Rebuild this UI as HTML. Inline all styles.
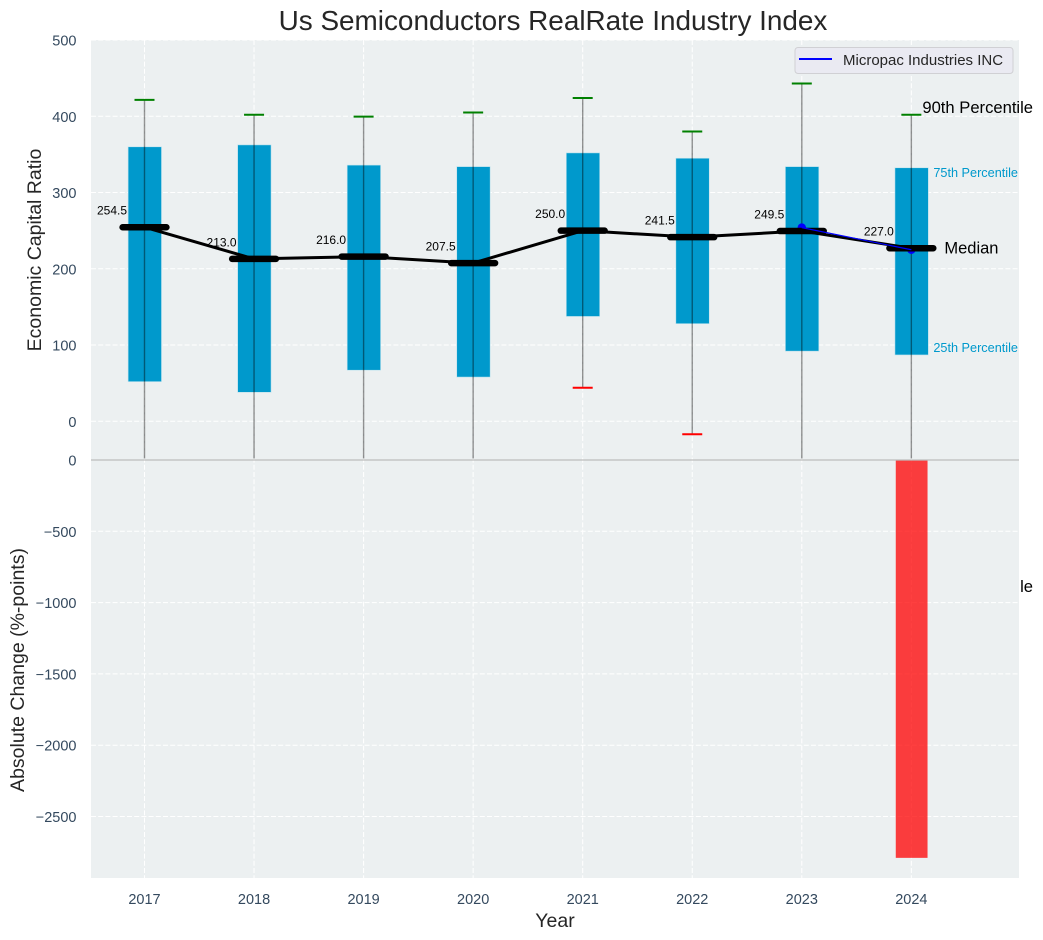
<!DOCTYPE html>
<html>
<head>
<meta charset="utf-8">
<title>Us Semiconductors RealRate Industry Index</title>
<style>
html,body{margin:0;padding:0;background:#fff;width:1043px;height:940px;overflow:hidden}
svg{display:block;font-family:"Liberation Sans",Arial,sans-serif}
</style>
</head>
<body>
<svg id="chart" width="1043" height="940" viewBox="0 0 1043 940" xmlns="http://www.w3.org/2000/svg">
  <defs>
    <clipPath id="top-clip"><rect x="91" y="40" width="928" height="418.5"/></clipPath>
    <clipPath id="bottom-clip"><rect x="91" y="460" width="928" height="418"/></clipPath>
  </defs>
  <text x="553" y="30" text-anchor="middle" font-size="27.9" fill="#262626">Us Semiconductors RealRate Industry Index</text>
  <g id="behind-bottom"></g>
  <rect x="91" y="40" width="928" height="419.5" fill="#ecf0f1"/>
  <rect x="91" y="460" width="928" height="418" fill="#ecf0f1"/>
  <g id="grid"></g>
  <g id="top-marks" clip-path="url(#top-clip)"></g>
  <g id="bottom-marks" clip-path="url(#bottom-clip)"></g>
  <line x1="91" x2="1019" y1="460" y2="460" stroke="#bdbdbd" stroke-width="1.2"/>
  <g id="labels"></g>
  <g id="axes-text"></g>
  <text x="555" y="927" text-anchor="middle" font-size="19.5" fill="#262626">Year</text>
  <text transform="translate(41,250) rotate(-90)" text-anchor="middle" font-size="19.5" fill="#262626">Economic Capital Ratio</text>
  <text transform="translate(24,670) rotate(-90)" text-anchor="middle" font-size="19.5" fill="#262626">Absolute Change (%-points)</text>
  <g>
    <rect x="795" y="47.5" width="218" height="26" rx="3" fill="#eaeaf2" stroke="#d0d0d4" stroke-width="1"/>
    <line x1="799" x2="832" y1="59" y2="59" stroke="#0000ff" stroke-width="2"/>
    <text x="843" y="65" font-size="15" fill="#262626">Micropac Industries INC</text>
  </g>
</svg>
<script>
const years = [2017, 2018, 2019, 2020, 2021, 2022, 2023, 2024];
const p90 = [421.5, 402, 399.5, 405, 424, 380, 443, 402];
const p75 = [360, 362.5, 336, 334, 352, 345, 334, 332.5];
const medians = [254.5, 213.0, 216.0, 207.5, 250.0, 241.5, 249.5, 227.0];
const p25 = [52, 38, 67, 58, 137.5, 128, 92, 87];
const p10 = [-70, -80, -65, -75, 44, -17, -60, -60];
const micropac = [null, null, null, null, null, null, 254, 225];
const changes = [null, null, null, null, null, null, null, -2790];
const topTicks = [0, 100, 200, 300, 400, 500];
const bottomTicks = [0, -500, -1000, -1500, -2000, -2500];

const NS = 'http://www.w3.org/2000/svg';
const xAxis = v => 144.5 + (v - 2017) * 109.55;
const xSpan = u => u * 109.55;
const yTop = v => 421.3 - v * 0.7625;
const yBottom = v => 460 - v * 0.1426;
const plotLeft = 91, plotRight = 1019, plotTop = 40, plotBottom = 878;

function make(tag, parent, attrs) {
  const el = document.createElementNS(NS, tag);
  for (const k in attrs) el.setAttribute(k, attrs[k]);
  parent.appendChild(el);
  return el;
}
const byId = id => document.getElementById(id);

// grid
years.forEach(y => {
  const a = make('line', byId('grid'), {x1: xAxis(y), x2: xAxis(y), y1: plotTop, y2: plotBottom, stroke: '#fff', 'stroke-width': 1, 'stroke-dasharray': '5 2.2'});
  
  
});
topTicks.forEach(t => {
  const a = make('line', byId('grid'), {x1: plotLeft, x2: plotRight, y1: yTop(t), y2: yTop(t), stroke: '#fff', 'stroke-width': 1, 'stroke-dasharray': '5 2.2'});
  
  
  const s = make('text', byId('axes-text'), {x: 76.5, y: yTop(t) + 5.5, 'text-anchor': 'end', 'font-size': 14.5, fill: '#34495e'});
  s.textContent = String(t);
  
  
});
bottomTicks.forEach(t => {
  const a = make('line', byId('grid'), {x1: plotLeft, x2: plotRight, y1: yBottom(t), y2: yBottom(t), stroke: '#fff', 'stroke-width': 1, 'stroke-dasharray': '5 2.2'});
  
  
  const s = make('text', byId('axes-text'), {x: 76.5, y: yBottom(t) + 5.5, 'text-anchor': 'end', 'font-size': 14.5, fill: '#34495e'});
  s.textContent = String(t).replace('-', '\u2212');
  
  
});
years.forEach(y => {
  const s = make('text', byId('axes-text'), {x: xAxis(y), y: 904, 'text-anchor': 'middle', 'font-size': 14.5, fill: '#34495e'});
  s.textContent = String(y);
  
  
});

// boxes
const topMarks = byId('top-marks');
years.forEach((y, i) => {
  const x = xAxis(y);
  const w = xSpan(0.305);
  const box = make('rect', topMarks, {x: x - w / 2 + 0.3, y: yTop(p75[i]), width: w, height: yTop(p25[i]) - yTop(p75[i]), fill: '#0099cc', stroke: '#bfe3ee', 'stroke-width': 0.6});
  
  
  const wh = make('line', topMarks, {x1: x, x2: x, y1: yTop(p90[i]), y2: yTop(p10[i]), stroke: '#000', 'stroke-opacity': 0.42, 'stroke-width': 1.4});
  
  
  const hi = make('line', topMarks, {x1: x - 10, x2: x + 10, y1: yTop(p90[i]), y2: yTop(p90[i]), stroke: '#008000', 'stroke-width': 2});
  
  
  const lo = make('line', topMarks, {x1: x - 10, x2: x + 10, y1: yTop(p10[i]), y2: yTop(p10[i]), stroke: '#ff0000', 'stroke-width': 2});
  
  
});

// company dots
years.forEach((y, i) => {
  if (micropac[i] === null) return;
  const d = make('circle', topMarks, {cx: xAxis(y), cy: yTop(micropac[i]), r: 4.2, fill: '#0000ff'});
  
  
});

// median line
const medPath = make('polyline', topMarks, {points: years.map((y, i) => xAxis(y) + ',' + yTop(medians[i])).join(' '), fill: 'none', stroke: '#000', 'stroke-width': 3, 'stroke-linejoin': 'round'});



// median bars
years.forEach((y, i) => {
  const x = xAxis(y);
  const m = make('line', topMarks, {x1: x - xSpan(0.2), x2: x + xSpan(0.2), y1: yTop(medians[i]), y2: yTop(medians[i]), stroke: '#000', 'stroke-width': 6.5, 'stroke-linecap': 'round'});
  
  
});

// company line
const micropacPoints = years.map((y, i) => micropac[i] === null ? null : xAxis(y) + ',' + yTop(micropac[i])).filter(Boolean).join(' ');
const micropacLine = make('polyline', topMarks, {points: micropacPoints, fill: 'none', stroke: '#0000ff', 'stroke-width': 1.2});



// median value labels
years.forEach((y, i) => {
  const s = make('text', byId('labels'), {x: xAxis(y) - 17.5, y: yTop(medians[i]) - 12.5, 'text-anchor': 'end', 'font-size': 12, fill: '#000'});
  s.textContent = medians[i].toFixed(1);
  
  
});

// change bars
years.forEach((y, i) => {
  if (changes[i] === null) return;
  const w = xSpan(0.29);
  const b = make('rect', byId('bottom-marks'), {x: xAxis(y) - w / 2 + 0.3, y: yBottom(0), width: w, height: yBottom(changes[i]) - yBottom(0), fill: '#ff0000', 'fill-opacity': 0.75});
  
  
});

// percentile annotations on the last year
const lastIndex = years.length - 1;
const labelX = xAxis(years[lastIndex]);
const t90 = make('text', byId('labels'), {x: labelX + 11, y: yTop(p90[lastIndex]) - 2, 'font-size': 16.6, fill: '#000'});
t90.textContent = '90th Percentile';


const t75 = make('text', byId('labels'), {x: labelX + 22, y: yTop(p75[lastIndex]) + 9, 'font-size': 12.7, fill: '#0099cc'});
t75.textContent = '75th Percentile';


const t50 = make('text', byId('labels'), {x: labelX + 33, y: yTop(medians[lastIndex]) + 5.5, 'font-size': 16.5, fill: '#000'});
t50.textContent = 'Median';


const t25 = make('text', byId('labels'), {x: labelX + 22, y: yTop(p25[lastIndex]) - 3, 'font-size': 12.7, fill: '#0099cc'});
t25.textContent = '25th Percentile';


const t10 = make('text', byId('behind-bottom'), {x: labelX + 11, y: 592, 'font-size': 16.6, fill: '#000'});
t10.textContent = '10th Percentile';


</script>
</body>
</html>
